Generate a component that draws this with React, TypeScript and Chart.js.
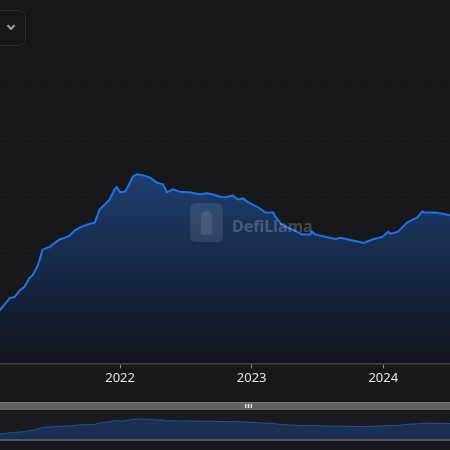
import React, { useEffect, useRef } from 'react';
import { Chart, registerables } from 'chart.js';

Chart.register(...registerables);

// TVL series (dates + values)
const tvlDates = [
  '2020-12-31', '2021-02-02', '2021-02-15', '2021-03-01', '2021-03-15', '2021-03-28',
  '2021-04-11', '2021-04-25', '2021-05-04', '2021-05-17', '2021-05-23', '2021-05-31',
  '2021-06-20', '2021-07-04', '2021-07-17', '2021-07-31', '2021-08-14', '2021-08-28',
  '2021-09-11', '2021-09-25', '2021-10-09', '2021-10-23', '2021-11-05', '2021-11-19',
  '2021-12-03', '2021-12-17', '2021-12-23', '2022-01-01', '2022-01-15', '2022-01-23',
  '2022-02-06', '2022-02-17', '2022-03-05', '2022-03-25', '2022-04-13', '2022-04-30',
  '2022-05-11', '2022-05-28', '2022-06-16', '2022-07-14', '2022-08-11', '2022-08-30',
  '2022-09-16', '2022-10-05', '2022-10-19', '2022-11-10', '2022-11-24', '2022-12-08',
  '2022-12-22', '2023-01-19', '2023-02-08', '2023-03-02', '2023-03-07', '2023-03-26',
  '2023-04-23', '2023-05-21', '2023-06-12', '2023-06-17', '2023-06-26', '2023-07-24',
  '2023-08-21', '2023-09-04', '2023-09-26', '2023-10-24', '2023-11-07', '2023-12-02',
  '2023-12-30', '2024-01-15', '2024-01-20', '2024-02-11', '2024-03-07', '2024-03-21',
  '2024-04-04', '2024-04-18', '2024-04-26', '2024-05-24', '2024-06-12', '2024-07-04',
  '2024-07-26',
];

const tvlValues = [
  68, 95, 105, 116, 118, 129,
  136, 152, 157, 173, 184, 202,
  207, 214, 220, 223, 227, 236,
  241, 245, 248, 250, 273, 282,
  291, 309, 313, 304, 305, 314,
  332, 336, 334, 330, 321, 318,
  304, 309, 305, 304, 300, 302,
  300, 296, 295, 298, 291, 293,
  286, 277, 268, 268, 261, 246,
  238, 229, 229, 234, 229, 225,
  221, 223, 220, 216, 214, 220,
  225, 234, 230, 234, 250, 255,
  259, 270, 268, 268, 266, 263,
  261,
];

const yearTicks = [2022, 2023, 2024];

const viewStart = Date.UTC(2021, 1, 2);
const viewEnd = Date.UTC(2024, 6, 4);

const points = tvlDates.map((d, i) => ({ x: Date.parse(d), y: tvlValues[i] }));

const BG = '#17181c';

const App: React.FC = () => {
  const mainRef = useRef<HTMLCanvasElement>(null);
  const navRef = useRef<HTMLCanvasElement>(null);

  useEffect(() => {
    if (!mainRef.current || !navRef.current) return;

    const main = new Chart(mainRef.current, {
      type: 'line',
      data: {
        datasets: [{
          data: points,
          borderColor: '#2172e5',
          borderWidth: 2,
          pointRadius: 0,
          tension: 0,
          fill: 'origin',
          backgroundColor: (ctx: any) => {
            const { chart } = ctx;
            const area = chart.chartArea;
            if (!area) return 'rgba(33,114,229,0.3)';
            const yScale = chart.scales.y;
            const top = yScale.getPixelForValue(Math.max(...tvlValues));
            const g = chart.ctx.createLinearGradient(0, top, 0, area.bottom);
            g.addColorStop(0, 'rgb(31,62,112)');
            g.addColorStop(0.5, 'rgb(22,40,70)');
            g.addColorStop(1, 'rgb(17,20,28)');
            return g;
          },
        }],
      },
      options: {
        animation: false,
        responsive: false,
        maintainAspectRatio: false,
        layout: { padding: { top: 52, left: 0, right: 0, bottom: 0 } },
        plugins: { legend: { display: false }, tooltip: { enabled: false } },
        scales: {
          x: {
            type: 'linear',
            min: viewStart,
            max: viewEnd,
            afterBuildTicks: (scale: any) => {
              scale.ticks = yearTicks.map((y) => ({ value: Date.UTC(y, 0, 1) }));
            },
            grid: { drawOnChartArea: false, drawTicks: true, tickLength: 5, color: '#8a8b90' },
            border: { display: true, color: '#45464b', width: 1.5 },
            ticks: {
              padding: 2,
              maxRotation: 0,
              autoSkip: false,
              color: '#e4e4e4',
              font: { family: '"Noto Sans", sans-serif', size: 13 },
              callback: (v: any) => String(new Date(v).getUTCFullYear()),
            },
          },
          y: {
            min: 0,
            max: 553,
            grid: { color: 'rgba(255,255,255,0.06)', drawTicks: false, lineWidth: 1 },
            border: { display: false, dash: [2, 3] },
            ticks: { display: false, stepSize: 100, includeBounds: false },
          },
        },
      },
    });

    const nav = new Chart(navRef.current, {
      type: 'line',
      data: {
        datasets: [{
          data: points,
          borderColor: '#2a5090',
          borderWidth: 1,
          pointRadius: 0,
          fill: 'origin',
          backgroundColor: 'rgb(27,47,83)',
        }],
      },
      options: {
        animation: false,
        responsive: false,
        maintainAspectRatio: false,
        layout: { padding: 0 },
        plugins: { legend: { display: false }, tooltip: { enabled: false } },
        scales: {
          x: { type: 'linear', display: false, min: viewStart, max: viewEnd },
          y: { display: false, min: 0, max: 480 },
        },
      },
    });

    return () => {
      main.destroy();
      nav.destroy();
    };
  }, []);

  return (
    <div style={{ position: 'fixed', left: 0, top: 0, width: 450, height: 450, background: BG, overflow: 'hidden', fontFamily: '"Noto Sans", sans-serif' }}>
      {/* dropdown button, cut off on the left */}
      <div style={{ position: 'absolute', left: -20, top: 10, width: 44, height: 34, border: '1px solid #2d2f34', borderRadius: 8 }} />
      <div style={{ position: 'absolute', left: 8, top: 23, width: 4, height: 4, borderRight: '2px solid #a0a0a4', borderBottom: '2px solid #a0a0a4', transform: 'rotate(45deg)' }} />

      <canvas ref={mainRef} width={450} height={388} style={{ position: 'absolute', left: 0, top: 0, width: 450, height: 388 }} />

      {/* watermark */}
      <div style={{ position: 'absolute', left: 190, top: 203, width: 33, height: 39, borderRadius: 6, background: 'rgba(255,255,255,0.1)', pointerEvents: 'none' }}>
        <div style={{ position: 'absolute', left: 11, top: 8, width: 11, height: 24, borderRadius: '5px 5px 2px 2px', background: 'rgba(255,255,255,0.1)' }} />
      </div>
      <div style={{ position: 'absolute', left: 232, top: 216, fontSize: 16, fontWeight: 700, color: 'rgba(255,255,255,0.2)', lineHeight: '21px', pointerEvents: 'none' }}>
        DefiLlama
      </div>

      {/* data zoom slider */}
      <div style={{ position: 'absolute', left: 0, top: 402, width: 450, height: 8, background: '#616266', borderTop: '1px solid #77787c', boxSizing: 'border-box' }} />
      <div style={{ position: 'absolute', left: 245, top: 404, width: 7, height: 4, background: 'repeating-linear-gradient(90deg, #e8e8e8 0 1px, #8a8a8a 1px 3px)' }} />
      <div style={{ position: 'absolute', left: 0, top: 410, width: 450, height: 30, background: '#1a1b20' }} />
      <canvas ref={navRef} width={450} height={30} style={{ position: 'absolute', left: 0, top: 410, width: 450, height: 30 }} />
      <div style={{ position: 'absolute', left: 0, top: 439, width: 450, height: 2, background: '#55575c' }} />
    </div>
  );
};

export default App;
